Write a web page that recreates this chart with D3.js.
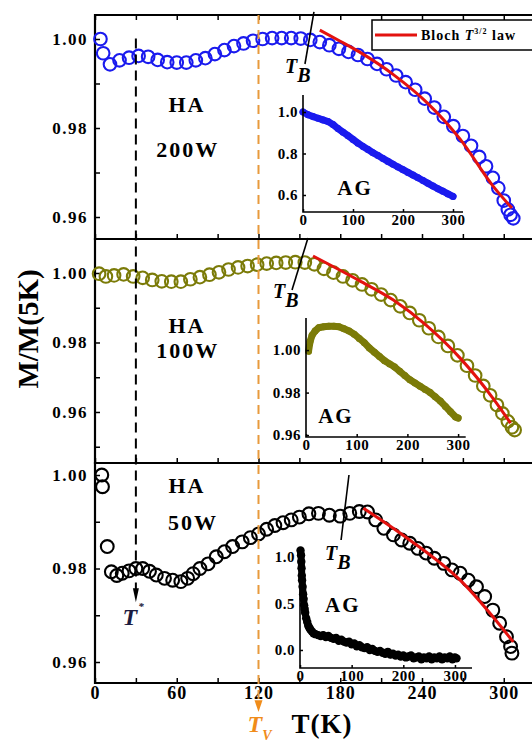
<!DOCTYPE html>
<html><head><meta charset="utf-8">
<script src="https://cdn.jsdelivr.net/npm/d3@7"></script>
<style>
html,body{margin:0;padding:0;background:#fff;}
svg{display:block;}
text{font-family:"Liberation Serif","Times New Roman",serif;font-weight:bold;}
</style></head><body>
<svg id="chart" width="532" height="744"></svg>
<script>
// ---------------- DATA ----------------
const xTickValues = [0, 30, 60, 90, 120, 150, 180, 210, 240, 270, 300];
const xTickLabels = [0, 60, 120, 180, 240, 300];
const yTickValues = [0.95, 0.96, 0.97, 0.98, 0.99, 1.00];

// HA 200W
const T_HA200 = [4,6,11,18,25,32,39,46,53,60,67,74,81,88,95,102,109,116,123,130,137,144,151,158,165,172,179,186,193,200,207,214,221,228,235,242,249,256,263,270,276,282,287,292,296,300,303,305,307];
const M_HA200 = [1.0000,0.9968,0.9943,0.9952,0.9958,0.9962,0.9960,0.9953,0.9948,0.9947,0.9947,0.9952,0.9957,0.9966,0.9975,0.9984,0.9990,0.9996,1.0000,1.0002,1.0002,1.0002,1.0001,0.9998,0.9993,0.9986,0.9978,0.9971,0.9964,0.9955,0.9944,0.9932,0.9918,0.9903,0.9886,0.9866,0.9846,0.9825,0.9804,0.9782,0.9760,0.9735,0.9714,0.9688,0.9665,0.9637,0.9617,0.9605,0.9597];
const T_FIT200 = [165,180,194,219,244,268,292,306];
const M_FIT200 = [1.0020,0.9995,0.9971,0.9920,0.9856,0.9775,0.9670,0.9620];

// HA 100W
const T_HA100 = [3,8,14,21,28,35,42,49,56,63,70,77,84,91,98,105,112,119,126,133,140,147,154,161,168,175,182,189,196,203,210,217,224,231,238,245,252,259,266,273,279,285,290,295,299,303,306,308];
const M_HA100 = [0.9998,0.9990,0.9993,0.9996,0.9990,0.9986,0.9980,0.9976,0.9975,0.9975,0.9982,0.9988,0.9995,1.0002,1.0010,1.0016,1.0020,1.0024,1.0027,1.0029,1.0030,1.0031,1.0030,1.0025,1.0012,1.0001,0.9990,0.9979,0.9967,0.9953,0.9938,0.9922,0.9904,0.9885,0.9864,0.9841,0.9816,0.9790,0.9763,0.9733,0.9705,0.9675,0.9648,0.9620,0.9596,0.9573,0.9556,0.9548];
const T_FIT100 = [160,194,219,243,268,292,305];
const M_FIT100 = [1.0049,0.9978,0.9922,0.9850,0.9755,0.9640,0.9568];

// HA 50W
const T_HA50 = [5,5.5,9,12,16,20,25,30,35,40,45,51,57,63,68,72,77,83,89,95,101,108,114,120,126,132,138,144,150,157,164,172,180,187,194,200,206,212,219,225,231,237,243,249,256,262,268,274,280,286,292,297,302,305,306];
const M_HA50 = [1.0000,0.9975,0.9847,0.9793,0.9785,0.9790,0.9795,0.9800,0.9800,0.9794,0.9786,0.9779,0.9775,0.9772,0.9779,0.9789,0.9800,0.9810,0.9825,0.9836,0.9847,0.9857,0.9866,0.9874,0.9884,0.9892,0.9898,0.9904,0.9910,0.9917,0.9918,0.9914,0.9912,0.9918,0.9922,0.9921,0.9904,0.9886,0.9872,0.9861,0.9854,0.9843,0.9833,0.9822,0.9811,0.9797,0.9790,0.9775,0.9761,0.9740,0.9711,0.9683,0.9654,0.9633,0.9619];
const T_FIT50 = [197,231,268,307];
const M_FIT50 = [0.9929,0.9861,0.9775,0.9643];

// AG insets
const T_AG200 = [0,10,20,30,40,50,60,70,80,90,100,110,120,130,140,150,160,170,180,190,200,210,220,230,240,250,260,270,280,290,300];
const M_AG200 = [1.000,0.987,0.978,0.970,0.962,0.954,0.940,0.920,0.903,0.886,0.868,0.850,0.834,0.819,0.804,0.790,0.776,0.762,0.748,0.735,0.722,0.709,0.696,0.683,0.670,0.656,0.643,0.630,0.618,0.605,0.593];

const T_AG100 = [5,8,12,18,25,35,45,55,65,75,85,95,105,115,125,135,145,155,165,175,185,195,205,215,225,235,245,255,265,275,285,295,300];
const M_AG100 = [0.9995,1.0040,1.0070,1.0090,1.0105,1.0110,1.0112,1.0112,1.0110,1.0100,1.0090,1.0075,1.0055,1.0035,1.0010,0.9990,0.9970,0.9950,0.9935,0.9920,0.9900,0.9880,0.9860,0.9845,0.9830,0.9815,0.9800,0.9780,0.9760,0.9735,0.9710,0.9685,0.9680];

const T_AG50 = [1,2,2.5,3,3.5,4,5,6,7,8,9,10,12,14,16,18,20,23,26,30,35,40,45,50,55,60,65,70,75,80,85,90,95,100,105,110,115,120,125,130,135,140,145,150,155,160,165,170,175,180,185,190,195,200,205,210,215,220,225,230,235,240,245,250,255,260,265,270,275,280,285,290,295,300,303];
const M_AG50 = [1.07,1.02,0.95,0.88,0.80,0.75,0.68,0.60,0.55,0.48,0.44,0.40,0.34,0.30,0.26,0.24,0.22,0.20,0.18,0.17,0.16,0.15,0.16,0.14,0.15,0.13,0.12,0.13,0.10,0.11,0.09,0.08,0.09,0.06,0.07,0.04,0.05,0.03,0.02,0.03,0.00,0.01,-0.01,-0.02,-0.01,-0.03,-0.04,-0.02,-0.05,-0.04,-0.06,-0.05,-0.07,-0.06,-0.08,-0.07,-0.06,-0.09,-0.08,-0.07,-0.10,-0.08,-0.09,-0.07,-0.10,-0.08,-0.09,-0.07,-0.10,-0.08,-0.09,-0.07,-0.10,-0.08,-0.09];

// ---------------- DRAWING ----------------
const svg = d3.select("#chart");
const FONT = '"Liberation Serif","Times New Roman",serif';
const x = d3.scaleLinear().domain([0, 322.2]).range([95, 534]);

const panels = [
  {top:15, bottom:239, dom:[0.95506,1.00539], color:"#1a1aee", T:T_HA200, M:M_HA200, fT:T_FIT200, fM:M_FIT200, r:6.3,
   labels:[{t:67.5,v:0.9836,s:"HA"},{t:68,v:0.9735,s:"200W"}],
   tbLine:[[160.7,1.00607],[154.1,0.99438]], tbText:[139.4,0.99236], topTicks:true, xLabels:false},
  {top:239, bottom:463, dom:[0.94532,1.00978], color:"#7b7b08", T:T_HA100, M:M_HA100, fT:T_FIT100, fM:M_FIT100, r:6.3,
   labels:[{t:67.5,v:0.98273,s:"HA"},{t:68,v:0.97554,s:"100W"}],
   tbLine:[[156.3,1.01007],[144.6,0.99511]], tbText:[130.6,0.99281], topTicks:false, xLabels:false},
  {top:463, bottom:683, dom:[0.95551,1.00257], color:"#000000", T:T_HA50, M:M_HA50, fT:T_FIT50, fM:M_FIT50, r:6.4,
   labels:[{t:67.5,v:0.99615,s:"HA"},{t:72,v:0.98824,s:"50W"}],
   tbLine:[[186.4,1.0000],[180.6,0.9861]], tbText:[168.8,0.98182], topTicks:false, xLabels:true}
];

function styleAxis(sel, size, spacing) {
  sel.attr("font-family", FONT).attr("font-size", size).attr("font-weight", "bold");
  sel.selectAll("text").attr("fill", "#000").style("letter-spacing", spacing + "px");
  sel.selectAll("line").attr("stroke", "#000").attr("stroke-width", 1.5);
  sel.select(".domain").remove();
}

panels.forEach(p => {
  const y = d3.scaleLinear().domain(p.dom).range([p.bottom, p.top]);
  p.y = y;
  const g = svg.append("g");
  const ya = d3.axisLeft(y)
    .tickValues(yTickValues.filter(v => v >= p.dom[0] && v <= p.dom[1]))
    .tickSize(-5).tickSizeOuter(0).tickPadding(7)
    .tickFormat(v => (Math.round(v * 100) % 2 === 0) ? d3.format(".2f")(v) : "");
  g.append("g").attr("transform", `translate(${x(0)},0)`).call(ya).call(s => styleAxis(s, 17, 1.5));
  const xa = d3.axisBottom(x).tickValues(xTickValues).tickSize(-5).tickSizeOuter(0).tickPadding(3)
    .tickFormat(v => (p.xLabels && xTickLabels.includes(v)) ? String(v) : "");
  g.append("g").attr("transform", `translate(0,${p.bottom})`).call(xa).call(s => styleAxis(s, 18, 1));
  if (p.topTicks) {
    const ta = d3.axisTop(x).tickValues(xTickValues).tickSize(-5).tickSizeOuter(0).tickFormat("");
    g.append("g").attr("transform", `translate(0,${p.top})`).call(ta).call(s => styleAxis(s, 17, 0));
  }
  g.append("line").attr("x1", x(0)).attr("x2", x(0)).attr("y1", p.top - 1).attr("y2", p.bottom + 1)
    .attr("stroke", "#000").attr("stroke-width", 2.2);
  g.append("line").attr("x1", x(0)).attr("x2", 534).attr("y1", p.top).attr("y2", p.top)
    .attr("stroke", "#000").attr("stroke-width", 2.2);
  g.append("line").attr("x1", x(0)).attr("x2", 534).attr("y1", p.bottom).attr("y2", p.bottom)
    .attr("stroke", "#000").attr("stroke-width", 2.2);
  g.append("g").selectAll("circle").data(d3.zip(p.T, p.M)).join("circle")
    .attr("cx", d => x(d[0])).attr("cy", d => y(d[1])).attr("r", p.r)
    .attr("fill", "none").attr("stroke", p.color).attr("stroke-width", 2.1);
  g.append("path").datum(d3.zip(p.fT, p.fM))
    .attr("d", d3.line().x(d => x(d[0])).y(d => y(d[1])).curve(d3.curveMonotoneX))
    .attr("fill", "none").attr("stroke", "#e3120f").attr("stroke-width", 3);
  p.labels.forEach(l => {
    g.append("text").attr("x", x(l.t)).attr("y", y(l.v)).attr("text-anchor", "middle")
      .attr("font-size", 22).style("letter-spacing", "2px").text(l.s);
  });
  g.append("line").attr("x1", x(p.tbLine[0][0])).attr("y1", y(p.tbLine[0][1]))
    .attr("x2", x(p.tbLine[1][0])).attr("y2", y(p.tbLine[1][1]))
    .attr("stroke", "#000").attr("stroke-width", 1.6);
  const tb = g.append("text").attr("x", x(p.tbText[0])).attr("y", y(p.tbText[1]))
    .attr("font-size", 20).attr("font-style", "italic").attr("font-weight", "normal");
  tb.append("tspan").text("T");
  tb.append("tspan").attr("dy", 9).text("B");
});

// Legend
const lg = svg.append("g");
lg.append("rect").attr("x", 372).attr("y", 20).attr("width", 175).attr("height", 30)
  .attr("fill", "#fff").attr("stroke", "#000").attr("stroke-width", 1.5);
lg.append("line").attr("x1", 375).attr("x2", 417).attr("y1", 35).attr("y2", 35)
  .attr("stroke", "#e3120f").attr("stroke-width", 3);
const lt = lg.append("text").attr("x", 421).attr("y", 40).attr("font-size", 14).style("letter-spacing", "1px");
lt.append("tspan").text("Bloch ");
lt.append("tspan").attr("font-style", "italic").text("T");
lt.append("tspan").attr("font-size", 8).attr("dy", -6).text("3/2");
lt.append("tspan").attr("dy", 6).text(" law");

// Insets
const insets = [
  {xr:[303,463], xd:[0,320], yr:[212,95], yd:[0.518,1.082], yt:[0.6,0.8,1.0], fmt:".1f", T:T_AG200, M:M_AG200,
   color:"#1a1aee", lw:7, dr:3.5, ag:[104,0.60]},
  {xr:[306,465.7], xd:[0,315], yr:[437,318], yd:[0.9591,1.0151], yt:[0.96,0.98,1.00], fmt:".2f", T:T_AG100, M:M_AG100,
   color:"#7b7b08", lw:7, dr:3.5, ag:[59,0.9656]},
  {xr:[300,472], xd:[0,333], yr:[668,547], yd:[-0.194,1.108], yt:[0.0,0.5,1.0], fmt:".1f", T:T_AG50, M:M_AG50,
   color:"#000000", lw:7, dr:4.2, ag:[83,0.409]}
];
insets.forEach(s => {
  const xs = d3.scaleLinear().domain(s.xd).range(s.xr);
  const ys = d3.scaleLinear().domain(s.yd).range(s.yr);
  const g = svg.append("g");
  g.append("path").datum(d3.zip(s.T, s.M))
    .attr("d", d3.line().x(d => xs(d[0])).y(d => ys(d[1])))
    .attr("fill", "none").attr("stroke", s.color).attr("stroke-width", s.lw)
    .attr("stroke-linejoin", "round").attr("stroke-linecap", "round");
  g.append("g").selectAll("circle").data(d3.zip(s.T, s.M)).join("circle")
    .attr("cx", d => xs(d[0])).attr("cy", d => ys(d[1])).attr("r", s.dr).attr("fill", s.color);
  const xa = d3.axisBottom(xs).tickValues([0,100,200,300]).tickSize(-3).tickSizeOuter(0).tickPadding(2);
  g.append("g").attr("transform", `translate(0,${s.yr[0]})`).call(xa).call(a => styleAxis(a, 15, 0.5));
  const ya = d3.axisLeft(ys).tickValues(s.yt).tickSize(-3).tickSizeOuter(0).tickPadding(5).tickFormat(d3.format(s.fmt));
  g.append("g").attr("transform", `translate(${s.xr[0]},0)`).call(ya).call(a => styleAxis(a, 15, 0.5));
  g.append("path").attr("d", `M${s.xr[0]},${s.yr[1]}V${s.yr[0]}H${s.xr[1]}`)
    .attr("fill", "none").attr("stroke", "#000").attr("stroke-width", 1.6);
  g.append("text").attr("x", xs(s.ag[0])).attr("y", ys(s.ag[1])).attr("text-anchor", "middle")
    .attr("font-size", 21).style("letter-spacing", "2px").text("AG");
});

// Vertical markers
const p1 = panels[0], p3 = panels[2];
const xs30 = x(30), xs120 = x(120);
svg.append("line").attr("x1", xs30).attr("x2", xs30).attr("y1", p1.y(1.0001)).attr("y2", p3.y(0.9756))
  .attr("stroke", "#000").attr("stroke-width", 2).attr("stroke-dasharray", "10,6");
svg.append("path").attr("d", `M${xs30 - 3},${p3.y(0.9758)}H${xs30 + 3}L${xs30},${p3.y(0.9728)}Z`).attr("fill", "#000");
svg.append("line").attr("x1", xs120).attr("x2", xs120).attr("y1", p1.top).attr("y2", p3.y(0.9516))
  .attr("stroke", "#e89a3c").attr("stroke-width", 2).attr("stroke-dasharray", "9,6");
svg.append("path").attr("d", `M${xs120 - 4},${p3.y(0.9518)}H${xs120 + 4}L${xs120},${p3.y(0.9493)}Z`).attr("fill", "#f08c1a");

const ts = svg.append("text").attr("x", x(28)).attr("y", p3.y(0.9679)).attr("text-anchor", "middle")
  .attr("font-size", 24).attr("font-style", "italic").attr("fill", "#1c1c40");
ts.append("tspan").text("T");
ts.append("tspan").attr("font-size", 11).attr("dy", -15).attr("dx", 1).text("*");

const tv = svg.append("text").attr("x", x(112)).attr("y", p3.y(0.9450))
  .attr("font-size", 24).attr("font-style", "italic").attr("fill", "#f08c1a");
tv.append("tspan").text("T");
tv.append("tspan").attr("font-size", 14).attr("dy", 8).text("V");

// Axis titles
svg.append("text").attr("transform", "translate(38,329) rotate(-90)").attr("text-anchor", "middle")
  .attr("font-size", 29).text("M/M(5K)");
svg.append("text").attr("x", 322).attr("y", 733).attr("text-anchor", "middle")
  .attr("font-size", 27).style("letter-spacing", "1px").text("T(K)");
</script>
</body></html>
